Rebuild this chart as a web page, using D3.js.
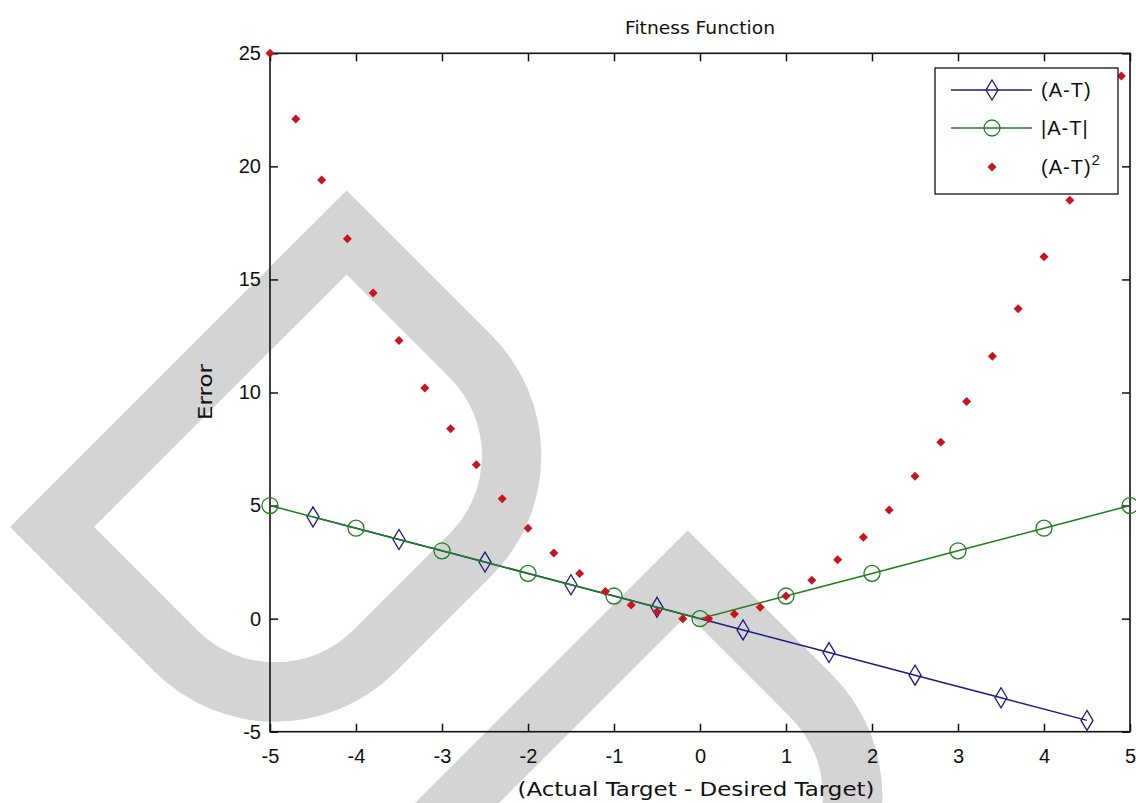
<!DOCTYPE html>
<html>
 <head>
  <meta charset="utf-8">
  <script src="https://d3js.org/d3.v7.min.js"></script>
  <style>
   body { margin: 0; background: #fff; }
   text { font-family: "Liberation Sans", Arial, sans-serif; fill: #111; }
  </style>
 </head>
 <body>
  <div id="chart"></div>
  <script type="text/javascript">
   // values
   var xLin = [-4.5, -3.5, -2.5, -1.5, -0.5, 0.5, 1.5, 2.5, 3.5, 4.5];
   var yLin = [4.5, 3.5, 2.5, 1.5, 0.5, -0.5, -1.5, -2.5, -3.5, -4.5];
   var xAbs = [-5, -4, -3, -2, -1, 0, 1, 2, 3, 4, 5];
   var yAbs = [5, 4, 3, 2, 1, 0, 1, 2, 3, 4, 5];
   var xSq = [-5, -4.7, -4.4, -4.1, -3.8, -3.5, -3.2, -2.9, -2.6, -2.3, -2, -1.7,
              -1.4, -1.1, -0.8, -0.5, -0.2, 0.1, 0.4, 0.7, 1, 1.3, 1.6, 1.9, 2.2,
              2.5, 2.8, 3.1, 3.4, 3.7, 4, 4.3, 4.6, 4.9];
   var ySq = [25, 22.1, 19.4, 16.8, 14.4, 12.3, 10.2, 8.4, 6.8, 5.3, 4.0, 2.9,
              2.0, 1.2, 0.6, 0.3, 0.0, 0.0, 0.2, 0.5, 1.0, 1.7, 2.6, 3.6, 4.8,
              6.3, 7.8, 9.6, 11.6, 13.7, 16.0, 18.5, 21.2, 24.0];
   var xTicks = [-5, -4, -3, -2, -1, 0, 1, 2, 3, 4, 5];
   var yTicks = [-5, 0, 5, 10, 15, 20, 25];
   var seriesNames = ["(A-T)", "|A-T|", "(A-T)"];

   var W = 1136, H = 803;
   var pLeft = 270, pRight = 1130, pTop = 53.3, pBottom = 731.7;

   var svg = d3.select("#chart").append("svg")
     .attr("width", W).attr("height", H);

   // grey "D" watermark shapes behind the plot
   var dPath = "M0,0 L476,0 L476,205 A170,170 0 0 1 306,375 L170,375 A170,170 0 0 1 0,205 Z " +
               "M59.4,59.4 L416.6,59.4 L416.6,205 A110.6,110.6 0 0 1 306,315.6 L170,315.6 A110.6,110.6 0 0 1 59.4,205 Z";
   [[10, 527], [351, 867]].forEach(function (o) {
     svg.append("path")
       .attr("d", dPath)
       .attr("fill", "#d4d4d4")
       .attr("fill-rule", "evenodd")
       .attr("transform", "translate(" + o[0] + "," + o[1] + ") rotate(-45)");
   });

   var x = d3.scaleLinear().domain([-5, 5]).range([pLeft, pRight]);
   var y = d3.scaleLinear().domain([-5, 25]).range([pBottom, pTop]);
   var fmt = function (d) { return String(d); };

   // axes, ticks pointing inwards on all four sides
   var gx = svg.append("g").attr("transform", "translate(0," + pBottom + ")")
     .call(d3.axisBottom(x).tickValues(xTicks).tickFormat(fmt)
       .tickSizeInner(-8).tickSizeOuter(0).tickPadding(17));
   var gy = svg.append("g").attr("transform", "translate(" + pLeft + ",0)")
     .call(d3.axisLeft(y).tickValues(yTicks).tickFormat(fmt)
       .tickSizeInner(-8).tickSizeOuter(0).tickPadding(9));
   var gt = svg.append("g").attr("transform", "translate(0," + pTop + ")")
     .call(d3.axisTop(x).tickValues(xTicks).tickFormat("").tickSizeInner(-8).tickSizeOuter(0));
   var gr = svg.append("g").attr("transform", "translate(" + pRight + ",0)")
     .call(d3.axisRight(y).tickValues(yTicks).tickFormat("").tickSizeInner(-8).tickSizeOuter(0));
   [gx, gy, gt, gr].forEach(function (g) {
     g.select(".domain").remove();
     g.selectAll(".tick line").attr("stroke", "#111").attr("stroke-width", 1.5);
     g.selectAll(".tick text").style("font-size", "20px").attr("fill", "#111")
       .style("font-family", "'Liberation Sans', Arial, sans-serif");
   });
   svg.append("rect")
     .attr("x", pLeft).attr("y", pTop)
     .attr("width", pRight - pLeft).attr("height", pBottom - pTop)
     .attr("fill", "none").attr("stroke", "#111").attr("stroke-width", 1.6);

   // titles
   var wide = "'DejaVu Sans', 'Liberation Sans', sans-serif";
   svg.append("text").attr("x", 700).attr("y", 34).attr("text-anchor", "middle")
     .style("font-family", wide).style("font-size", "17px")
     .attr("textLength", 150).attr("lengthAdjust", "spacingAndGlyphs")
     .text("Fitness Function");
   svg.append("text").attr("x", 696).attr("y", 796).attr("text-anchor", "middle")
     .style("font-family", wide).style("font-size", "19px")
     .attr("textLength", 357).attr("lengthAdjust", "spacingAndGlyphs")
     .text("(Actual Target - Desired Target)");
   svg.append("text").attr("transform", "translate(212,392) rotate(-90)")
     .attr("text-anchor", "middle")
     .style("font-family", wide).style("font-size", "19px")
     .attr("textLength", 56).attr("lengthAdjust", "spacingAndGlyphs")
     .text("Error");

   var blue = "#1c1c82", green = "#1f7f1f", red = "#c8141e";
   var diamond = "M0,-10 L6,0 L0,10 L-6,0 Z";
   var dot = "M0,-4.5 L4.5,0 L0,4.5 L-4.5,0 Z";

   var line = d3.line().x(function (d) { return x(d[0]); }).y(function (d) { return y(d[1]); });
   var linData = d3.zip(xLin, yLin), absData = d3.zip(xAbs, yAbs), sqData = d3.zip(xSq, ySq);

   // (A-T)
   svg.append("path").datum(linData).attr("d", line)
     .attr("fill", "none").attr("stroke", blue).attr("stroke-width", 1.5);
   svg.selectAll(".mlin").data(linData).enter().append("path")
     .attr("d", diamond)
     .attr("transform", function (d) { return "translate(" + x(d[0]) + "," + y(d[1]) + ")"; })
     .attr("fill", "none").attr("stroke", blue).attr("stroke-width", 1.3);

   // |A-T|
   svg.append("path").datum(absData).attr("d", line)
     .attr("fill", "none").attr("stroke", green).attr("stroke-width", 1.5);
   svg.selectAll(".mabs").data(absData).enter().append("circle")
     .attr("cx", function (d) { return x(d[0]); })
     .attr("cy", function (d) { return y(d[1]); })
     .attr("r", 8)
     .attr("fill", "none").attr("stroke", green).attr("stroke-width", 1.3);

   // (A-T)^2
   svg.selectAll(".msq").data(sqData).enter().append("path")
     .attr("d", dot)
     .attr("transform", function (d) { return "translate(" + x(d[0]) + "," + y(d[1]) + ")"; })
     .attr("fill", red);

   // legend
   var lg = svg.append("g");
   lg.append("rect").attr("x", 935).attr("y", 68).attr("width", 183).attr("height", 126)
     .attr("fill", "#fff").attr("stroke", "#111").attr("stroke-width", 1.3);
   var rows = [90, 128, 167];
   lg.append("line").attr("x1", 951).attr("x2", 1032).attr("y1", rows[0]).attr("y2", rows[0])
     .attr("stroke", blue).attr("stroke-width", 1.5);
   lg.append("path").attr("d", diamond).attr("transform", "translate(992," + rows[0] + ")")
     .attr("fill", "none").attr("stroke", blue).attr("stroke-width", 1.3);
   lg.append("line").attr("x1", 951).attr("x2", 1032).attr("y1", rows[1]).attr("y2", rows[1])
     .attr("stroke", green).attr("stroke-width", 1.5);
   lg.append("circle").attr("cx", 992).attr("cy", rows[1]).attr("r", 8)
     .attr("fill", "none").attr("stroke", green).attr("stroke-width", 1.3);
   lg.append("path").attr("d", dot).attr("transform", "translate(992," + rows[2] + ")")
     .attr("fill", red);
   seriesNames.forEach(function (s, i) {
     var t = lg.append("text").attr("x", 1041).attr("y", rows[i] + 7)
       .style("font-size", "20px").style("letter-spacing", "1px").text(s);
     if (i === 2) {
       t.append("tspan").attr("dy", -9).style("font-size", "15px").text("2");
     }
   });
  </script>
 </body>
</html>
